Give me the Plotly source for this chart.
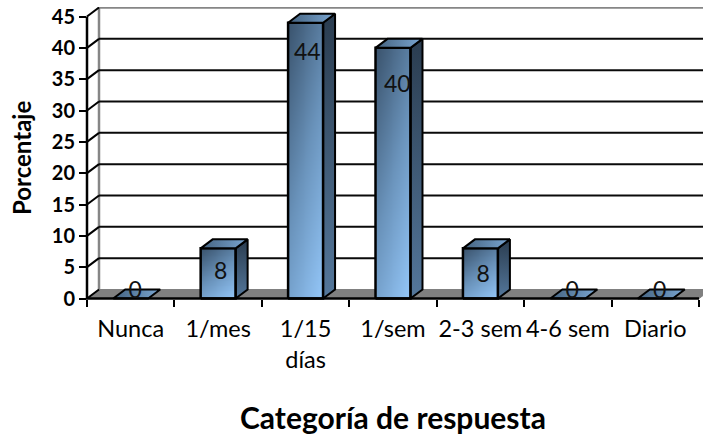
import numpy as np
import plotly.graph_objects as go

categories = ["Nunca", "1/mes", "1/15<br>días", "1/sem", "2-3 sem", "4-6 sem", "Diario"]
values = [0, 8, 44, 40, 8, 0, 0]
y_ticks = [0, 5, 10, 15, 20, 25, 30, 35, 40, 45]
label_drop = [-1.0, 4.0, 5.1, 6.1, 4.5, -1.0, -1.0]
label_shift = [0.05, 0.03, 0.02, 0.05, 0.03, 0.05, 0.05]

W, H = 703, 436
# plot rectangle of the front plane, and of the larger drawing layer, in pixels
FX0, FX1, FY0, FY45 = 87.0, 699.0, 298.5, 16.5
LX0, LX1, LY0, LY1 = 80.0, 703.0, 305.0, 7.0
PX_X = (FX1 - FX0) / 7
PX_Y = (FY0 - FY45) / 45
BAR_W = 0.4
DX = 12 / PX_X
DY = 9 / PX_Y
BLACK = "#000000"
FONT = "Lato"

def dom_x(px):
    return (px - LX0) / (LX1 - LX0)

def dom_y(py):
    return (LY0 - py) / (LY0 - LY1)

rng_x = [-0.5 + (LX0 - FX0) / PX_X, -0.5 + (LX1 - FX0) / PX_X]
rng_y = [(FY0 - LY0) / PX_Y, (FY0 - LY1) / PX_Y]

fig = go.Figure()
BACK = dict(xaxis="x2", yaxis="y2", hoverinfo="skip", showlegend=False)
TOP = dict(xaxis="x3", yaxis="y3", hoverinfo="skip", showlegend=False)

# invisible series that keeps the native tick axes on the page
fig.add_trace(go.Scatter(x=list(range(7)), y=values, mode="markers", marker=dict(opacity=0),
                         xaxis="x", yaxis="y", hoverinfo="skip", showlegend=False))

# floor and walls
fig.add_trace(go.Scatter(x=[-0.5, 6.5, 6.5 + DX, -0.5 + DX, -0.5], y=[0, 0, DY, DY, 0], mode="lines",
                         fill="toself", fillcolor="#808080", line=dict(color="#808080", width=1), **BACK))
fig.add_trace(go.Scatter(x=[-0.5 + DX, -0.5 + DX, 6.5 + DX], y=[DY, 45 + DY, 45 + DY], mode="lines",
                         line=dict(color="#868686", width=2.5), **BACK))
for t in y_ticks[1:-1]:
    fig.add_trace(go.Scatter(x=[-0.5 + DX, 6.5 + DX], y=[t + DY, t + DY], mode="lines",
                             line=dict(color="#0a0a0a", width=2), **BACK))
for t in y_ticks:
    fig.add_trace(go.Scatter(x=[-0.5, -0.5 + DX], y=[t, t + DY], mode="lines",
                             line=dict(color=BLACK, width=2), **BACK))

# bars
front_scale = [[0, "#3a536d"], [0.5, "#6a93bb"], [1, "#95c8fa"]]
for i, v in enumerate(values):
    x0, x1 = i - BAR_W / 2, i + BAR_W / 2
    if v > 0:
        nx, ny = 12, 30
        xe = np.linspace(x0, x1, nx + 1)
        ye = np.linspace(0, v, ny + 1)
        u = (np.arange(nx) + 0.5) / nx
        w = (np.arange(ny) + 0.5) / ny
        z = 0.35 * u[None, :] + 0.65 * (1 - w[:, None])
        fig.add_trace(go.Heatmap(x=xe, y=ye, z=z, colorscale=front_scale, zmin=0, zmax=1,
                                 showscale=False, zsmooth="best", xaxis="x3", yaxis="y3", hoverinfo="skip"))
        fig.add_trace(go.Scatter(x=[x1, x1 + DX, x1 + DX, x1, x1], y=[0, DY, v + DY, v, 0], mode="lines",
                                 fill="toself", line=dict(color=BLACK, width=2),
                                 fillgradient=dict(type="vertical",
                                                   colorscale=[[0, "#54779b"], [1, "#2a3c4f"]]),
                                 **TOP))
        fig.add_trace(go.Scatter(x=[x0, x1, x1, x0, x0], y=[0, 0, v, v, 0], mode="lines",
                                 line=dict(color=BLACK, width=2.5), **TOP))
    fig.add_trace(go.Scatter(x=[x0, x1, x1 + DX, x0 + DX, x0], y=[v, v, v + DY, v + DY, v], mode="lines",
                             fill="toself", line=dict(color=BLACK, width=2),
                             fillgradient=dict(type="horizontal",
                                               colorscale=[[0, "#44627f"], [1, "#7aa6d2"]]),
                             **TOP))

# front axis lines
fig.add_trace(go.Scatter(x=[-0.5, -0.5, 6.5], y=[45, 0, 0], mode="lines",
                         line=dict(color=BLACK, width=2.5), **TOP))

# data labels
fig.add_trace(go.Scatter(x=[i + s for i, s in enumerate(label_shift)],
                         y=[v - d for v, d in zip(values, label_drop)],
                         text=[str(v) for v in values], mode="text", textposition="middle center",
                         textfont=dict(family=FONT, size=23, color="#111111"), **TOP))

hidden = dict(visible=False, showgrid=False, zeroline=False)
fig.update_layout(
    width=W, height=H, autosize=False,
    margin=dict(l=LX0, r=W - LX1, t=LY1, b=H - LY0, pad=0, autoexpand=False),
    paper_bgcolor="white", plot_bgcolor="rgba(0,0,0,0)", showlegend=False,
    xaxis=dict(domain=[dom_x(FX0), dom_x(FX1)], range=[-0.5, 6.5], anchor="y", tickmode="array",
               tickvals=list(range(7)), ticktext=categories, ticks="", showgrid=False, zeroline=False,
               showline=False, tickfont=dict(family=FONT, size=23.5, color=BLACK), ticklabelstandoff=14,
               minor=dict(tickmode="array", tickvals=[k - 0.5 for k in range(8)], ticks="outside",
                          ticklen=7, tickwidth=2, tickcolor=BLACK)),
    yaxis=dict(domain=[dom_y(FY0), dom_y(FY45)], range=[0, 45], anchor="x", tickmode="array", tickvals=y_ticks,
               ticks="outside", ticklen=7, tickwidth=2, tickcolor=BLACK, showgrid=False, zeroline=False,
               showline=False, tickfont=dict(family=FONT, size=20, color=BLACK, weight="bold")),
    xaxis2=dict(domain=[0, 1], range=rng_x, anchor="y2", **hidden),
    yaxis2=dict(domain=[0, 1], range=rng_y, anchor="x2", **hidden),
    xaxis3=dict(range=rng_x, overlaying="x2", anchor="y3", **hidden),
    yaxis3=dict(range=rng_y, overlaying="y2", anchor="x3", **hidden),
    annotations=[
        dict(text="<b>Porcentaje</b>", xref="paper", yref="paper", x=dom_x(21), y=dom_y(158),
             textangle=-90, showarrow=False, xanchor="center", yanchor="middle",
             font=dict(family=FONT, size=24, color=BLACK)),
        dict(text="<b>Categoría de respuesta</b>", xref="paper", yref="paper", x=dom_x(393),
             y=dom_y(417), showarrow=False, xanchor="center", yanchor="middle",
             font=dict(family=FONT, size=30, color=BLACK)),
    ],
)
fig.write_html("out.html", config={"displayModeBar": False},
               post_script="document.body.style.margin='0';")
